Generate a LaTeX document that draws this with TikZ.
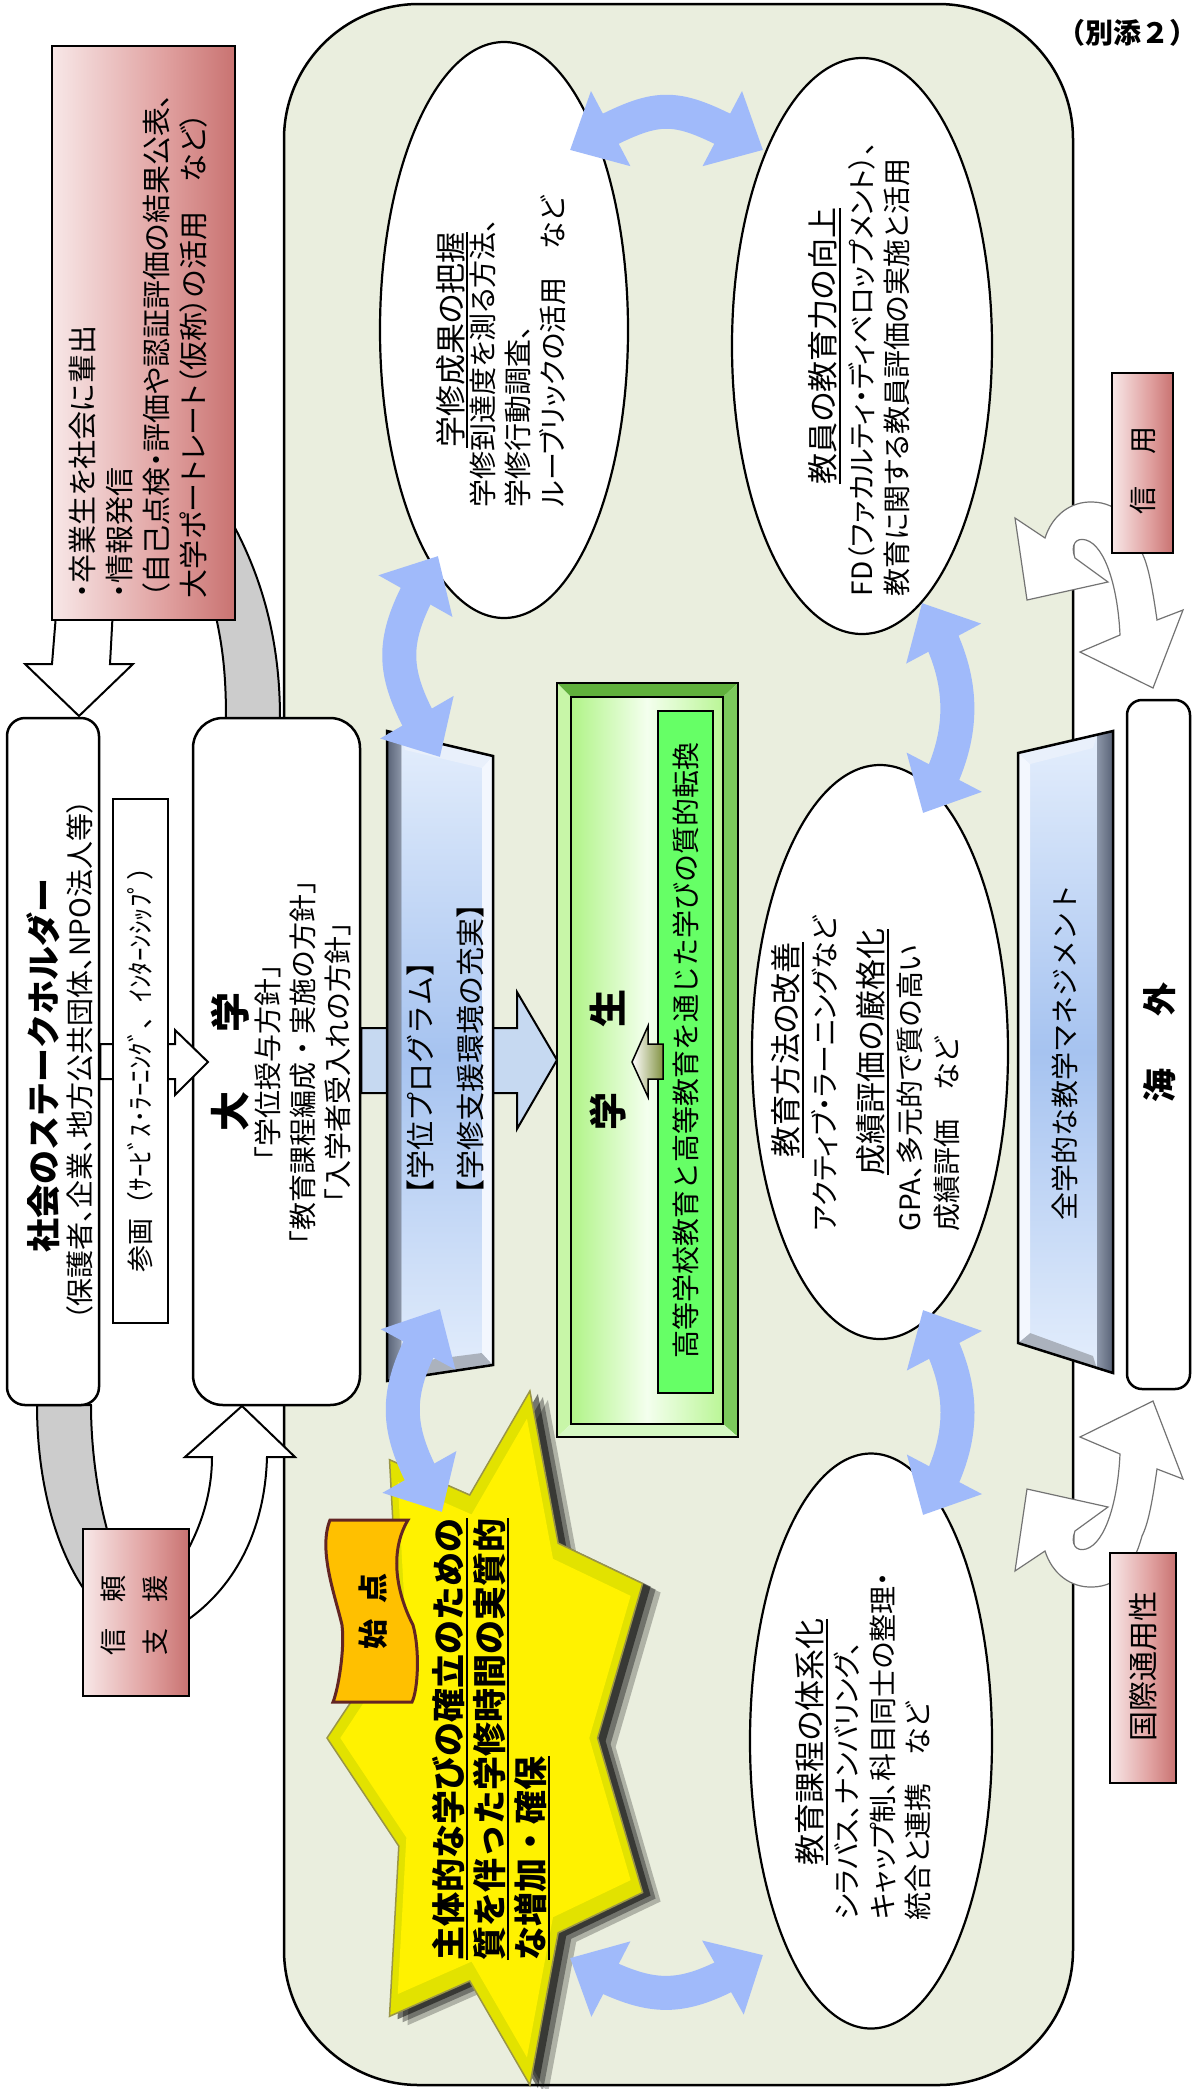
\documentclass[tikz,border=0pt]{standalone}
\usepackage{fontspec}
\setmainfont{Noto Sans CJK JP}
\newfontfamily\jpp[RawFeature=+palt]{Noto Sans CJK JP}
\usetikzlibrary{arrows.meta,bending,shapes.geometric}
\definecolor{bgcol}{RGB}{234,238,222}
\definecolor{bluearr}{RGB}{160,186,250}
\definecolor{lblue}{RGB}{198,217,241}
\definecolor{darkred}{RGB}{150,54,52}
\definecolor{pinkA}{RGB}{244,220,220}
\definecolor{pinkB}{RGB}{224,160,159}
\definecolor{pinkC}{RGB}{192,98,96}
\definecolor{orng}{RGB}{255,192,0}
\definecolor{scrollbrd}{RGB}{99,37,35}
\definecolor{glabel}{RGB}{102,255,102}
\definecolor{pltop}{RGB}{228,238,252}
\definecolor{plmid}{RGB}{166,195,240}
\definecolor{strA}{RGB}{88,98,118}
\definecolor{strB}{RGB}{140,150,168}
\definecolor{yrim}{RGB}{226,226,0}
\pgfdeclarehorizontalshading{redsh}{100bp}{color(0bp)=(white); color(14bp)=(white); color(30bp)=(pinkA); color(56bp)=(pinkB); color(82bp)=(pinkC); color(100bp)=(darkred)}
\pgfdeclareradialshading{ellsh}{\pgfpoint{-5bp}{0bp}}{color(0bp)=(white); color(29bp)=(white); color(32.5bp)=(black!8); color(34.6bp)=(black!32); color(35.5bp)=(black!55); color(50bp)=(black!55)}
\newcommand\fs[2]{\fontsize{#1pt}{#2pt}\selectfont}
\newcommand\ul[1]{\leavevmode\setbox0\hbox{#1}\rlap{\rule[-0.2em]{\wd0}{2pt}}\box0}
\newcommand\starP[1]{\path[#1] (-166,0) -- (-94.2,108.1) -- (-103.5,278.3) -- (-23.3,243.0) -- (36.9,347.1) -- (65.2,194.8) -- (149.6,154.5) -- (104.6,0) -- (149.6,-154.5) -- (65.2,-194.8) -- (36.9,-347.1) -- (-23.3,-243.0) -- (-103.5,-278.3) -- (-94.2,-108.1) -- cycle;}
\newcommand\uarrow{\filldraw[fill=white, draw=black!55, line width=1.2pt] (1015,518) -- (1027,600) -- (1108,582) -- (1075,558) .. controls (1070,545) and (1076,537) .. (1086,540) .. controls (1106,546) and (1118,590) .. (1120,635) -- (1080,652) -- (1153,688) -- (1183,610) -- (1157,620) .. controls (1152,585) and (1148,565) .. (1142,553) .. controls (1133,520) and (1118,503) .. (1093,502) .. controls (1070,501) and (1052,516) .. (1045,538) -- cycle;}
\tikzset{
  rt/.style={rotate=90, inner sep=0pt, outer sep=0pt},
  barr/.style={draw=bluearr, line width=34pt, {Triangle[width=82pt,length=46pt]}-{Triangle[width=82pt,length=46pt]}},
  ell/.style={ellipse, shade, shading=ellsh, draw=black, line width=2.2pt, inner sep=0pt},
  redbox/.style={draw=black, line width=2.5pt, shade, shading=redsh, inner sep=0pt},
  wbox/.style={draw=black, line width=2.5pt, fill=white, inner sep=0pt},
}
\begin{document}
\begin{tikzpicture}[x=1pt,y=-1pt]
\useasboundingbox (0,0) rectangle (1200,2089);
% background panel
\node[draw=black, line width=2.5pt, fill=bgcol, rounded corners=135pt, minimum width=789pt, minimum height=2081pt, inner sep=0pt] (bg) at (678.5,1044.5) {};
% upper curved arrow (gray back + white head)
\filldraw[fill=gray!40, draw=black, line width=2pt] (226,718) .. controls (226,670) and (222,640) .. (212,600) -- (200,560) -- (228,515) .. controls (262,575) and (280,640) .. (280,718) -- cycle;
\filldraw[fill=white, draw=black, line width=2pt] (58,590) -- (52,664) -- (25,664) -- (79,716) -- (133,664) -- (110,664) -- (114,590) -- cycle;
% lower curved arrow
\filldraw[fill=gray!40, draw=black, line width=2pt] (37,1405) .. controls (37,1480) and (55,1550) .. (88,1595) -- (120,1580) -- (110,1540) .. controls (98,1500) and (91,1450) .. (91,1405) -- cycle;
\filldraw[fill=white, draw=black, line width=2pt] (212,1457) -- (185,1457) -- (242,1406) -- (295,1457) -- (267,1457) .. controls (265,1530) and (235,1590) .. (180,1625) -- (160,1600) -- (182,1560) .. controls (200,1530) and (212,1495) .. (212,1457) -- cycle;
% boxes left
\node[redbox, minimum width=183pt, minimum height=574pt] (info) at (143.5,333) {};
\node[wbox, rounded corners=18pt, minimum width=92pt, minimum height=687pt] (soc) at (53,1061.5) {};
\node[wbox, rounded corners=30pt, minimum width=167pt, minimum height=687pt] (dai) at (276.5,1061.5) {};
\node[redbox, minimum width=106pt, minimum height=167pt] (shin) at (136,1612.5) {};
% sankaku arrow
\filldraw[fill=white, draw=black, line width=2pt] (soc.east |- 0,1044) -- (175,1044) -- (175,1030) -- (208,1062) -- (175,1095) -- (175,1079) -- (soc.east |- 0,1079) -- cycle;
\node[draw=black, line width=1.5pt, fill=white, minimum width=55pt, minimum height=524pt, inner sep=0pt] (san) at (140.5,1061) {};
% university -> students arrow
\filldraw[fill=lblue, draw=black, line width=2pt] (dai.east |- 0,1028) -- (517,1028) -- (517,992) -- (557,1060) -- (517,1129) -- (517,1093) -- (dai.east |- 0,1093) -- cycle;
% plate 1
\fill[top color=pltop, bottom color=pltop, middle color=plmid] (387,731) -- (493,756) -- (493,1365) -- (387,1381) -- cycle;
\fill[white!75!plmid] (401,735) -- (493,756) -- (482,768) -- (405,750) -- cycle;
\fill[black!25!pltop] (401,1378) -- (493,1365) -- (482,1353) -- (405,1363) -- cycle;
\fill[white!55!pltop] (482,768) -- (493,756) -- (493,1365) -- (482,1353) -- cycle;
\fill[left color=strA, right color=strB] (387,731) -- (401,735) -- (401,1378) -- (387,1381) -- cycle;
\draw[line width=2.5pt] (387,731) -- (493,756) -- (493,1365) -- (387,1381) -- cycle;
% student box
\draw[line width=2.5pt, fill=white] (557,683) rectangle (738,1437);
\fill[fill={rgb,255:red,96;green,176;blue,60}] (557,683) -- (738,683) -- (723,697) -- (571,697) -- cycle;
\fill[fill={rgb,255:red,200;green,246;blue,168}] (557,683) -- (571,697) -- (571,1424) -- (557,1437) -- cycle;
\fill[fill={rgb,255:red,124;green,201;blue,92}] (738,683) -- (738,1437) -- (723,1424) -- (723,697) -- cycle;
\fill[fill={rgb,255:red,214;green,248;blue,196}] (557,1437) -- (571,1424) -- (723,1424) -- (738,1437) -- cycle;
\shade[left color={rgb,255:red,176;green,244;blue,135}, right color={rgb,255:red,186;green,246;blue,150}, middle color={rgb,255:red,244;green,255;blue,238}] (571,697) rectangle (723,1424);
\draw[line width=1.5pt] (571,697) rectangle (723,1424);
\draw[line width=2.5pt] (557,683) rectangle (738,1437);
\node[draw=black, line width=1.5pt, fill=glabel, minimum width=55pt, minimum height=682pt, inner sep=0pt] (lab) at (685.5,1052) {};
\filldraw[left color=white, right color={rgb,255:red,130;green,146;blue,66}, draw=black, line width=1.5pt] (663,1044) -- (648,1044) -- (648,1026) -- (632,1062) -- (648,1097) -- (648,1079) -- (663,1079) -- cycle;
% ellipses
\node[ell, minimum width=248pt, minimum height=576pt] (e1) at (504,330) {};
\node[ell, minimum width=260pt, minimum height=576pt] (e2) at (862,346) {};
\node[ell, minimum width=256pt, minimum height=574pt] (e3) at (880,1052) {};
\node[ell, minimum width=242pt, minimum height=575pt] (e4) at (871,1741) {};
% plate 2
\fill[top color=pltop, bottom color=pltop, middle color=plmid] (1018,753) -- (1113,731) -- (1113,1373) -- (1018,1343) -- cycle;
\fill[white!75!plmid] (1018,753) -- (1097,735) -- (1093,748) -- (1030,764) -- cycle;
\fill[black!25!pltop] (1018,1343) -- (1097,1369) -- (1093,1356) -- (1030,1333) -- cycle;
\fill[white!55!pltop] (1018,753) -- (1030,764) -- (1030,1333) -- (1018,1343) -- cycle;
\fill[left color=strB, right color=strA] (1097,735) -- (1113,731) -- (1113,1373) -- (1097,1369) -- cycle;
\draw[line width=2.5pt] (1018,753) -- (1113,731) -- (1113,1373) -- (1018,1343) -- cycle;
\node[wbox, rounded corners=15pt, minimum width=63pt, minimum height=689pt] (kai) at (1158.5,1044.5) {};
% U-turn arrows
\uarrow
\begin{scope}[yshift=-2089pt, yscale=-1]
\uarrow
\end{scope}
\node[redbox, minimum width=61pt, minimum height=180pt] (shy) at (1142.5,463) {};
\node[redbox, minimum width=66pt, minimum height=230pt] (kok) at (1143,1668) {};
% star
\begin{scope}[shift={(493,1738)}]
\starP{fill=black, opacity=0.25, shift={(18,9)}}
\starP{fill=black, opacity=0.35, shift={(13,6)}}
\starP{fill=black, opacity=0.5, shift={(8,3)}}
\starP{fill=yrim, draw=black!45!yellow, line width=1.5pt}
\starP{fill=yellow, scale=0.92}
\end{scope}
% start scroll
\filldraw[fill=orng, draw=scrollbrd, line width=3pt] (330,1520) -- (408,1520) .. controls (390,1550) and (395,1590) .. (413,1625) .. controls (420,1650) and (418,1690) .. (412,1702) -- (333,1702) .. controls (338,1690) and (345,1650) .. (342,1625) .. controls (335,1595) and (318,1550) .. (330,1520) -- cycle;
% blue double arrows
\coordinate (b1a) at (570,150); \coordinate (b1b) at (763,150);
\coordinate (b2a) at (438,556); \coordinate (b2b) at (440,757);
\coordinate (b3a) at (440,1309); \coordinate (b3b) at (442,1512);
\coordinate (b4a) at (570,1958); \coordinate (b4b) at (763,1955);
\coordinate (b5a) at (922,603); \coordinate (b5b) at (923,813);
\coordinate (b6a) at (923,1310); \coordinate (b6b) at (923,1515);
\draw[barr] (b1a) .. controls (665,99) and (668,99) .. (b1b);
\draw[barr] (b2a) .. controls (386,642) and (386,670) .. (b2b);
\draw[barr] (b3a) .. controls (390,1394) and (390,1427) .. (b3b);
\draw[barr] (b4a) .. controls (655,2005) and (680,2005) .. (b4b);
\draw[barr] (b5a) .. controls (969,678) and (969,738) .. (b5b);
\draw[barr] (b6a) .. controls (969,1385) and (969,1440) .. (b6b);
% texts
\node[rt, anchor=west, align=left, font=\jpp\fs{29}{37}] (tinfo) at (138,598) {・卒業生を社会に輩出\\・情報発信\\（自己点検・評価や認証評価の結果公表、\\大学ポートレート（仮称）の活用　など）};
\node[rt, font=\bfseries\fs{34}{40}] (tsoc1) at (43,1065) {社会のステークホルダー};
\node[rt, font=\jpp\fs{28}{34}] (tsoc2) at (80,1060) {（保護者、企業、地方公共団体、NPO法人等）};
\node[rt, font=\fs{27}{32}] (tsan) at (140.5,1063) {参画（ｻｰﾋﾞｽ･ﾗｰﾆﾝｸﾞ、ｲﾝﾀｰﾝｼｯﾌﾟ）};
\node[rt, font=\bfseries\fs{40}{48}] (tdai) at (230,1062) {大\hspace{59pt}学};
\node[rt, font=\fs{28}{35}, align=center] (tdai2) at (303,1062) {「学位授与方針」\\「教育課程編成・実施の方針」\\「入学者受入れの方針」};
\node[rt, font=\fs{27}{42}, align=left] (tshin) at (134,1615) {信\hspace{26pt}頼\\支\hspace{26pt}援};
\node[rt, anchor=west, align=left, font=\fs{29}{50}] (tprog) at (445,1208) {【学位プログラム】\\【学修支援環境の充実】};
\node[rt, font=\bfseries\fs{38}{44}] (tgak) at (608,1060) {学\hspace{65pt}生};
\node[rt, font=\fs{28}{34}] (tlab) at (686,1050) {高等学校教育と高等教育を通じた学びの質的転換};
\node[rt, font=\jpp\fs{31}{36}] (te1a) at (452,340) {\ul{学修成果の把握}};
\node[rt, anchor=west, align=left, font=\jpp\fs{28}{35}] (te1b) at (518,507) {学修到達度を測る方法、\\学修行動調査、\\ルーブリックの活用　など};
\node[rt, font=\jpp\fs{31}{36}] (te2a) at (825,346) {\ul{教員の教育力の向上}};
\node[rt, anchor=west, align=left, font=\jpp\fs{28}{35}] (te2b) at (879.5,596) {FD（ファカルティ・ディベロップメント）、\\教育に関する教員評価の実施と活用};
\node[rt, font=\jpp\fs{31}{36}] (te3a) at (788,1050) {\ul{教育方法の改善}};
\node[rt, anchor=west, font=\jpp\fs{28}{35}] (te3b) at (825,1231) {アクティブ・ラーニングなど};
\node[rt, font=\jpp\fs{31}{36}] (te3c) at (873,1052) {\ul{成績評価の厳格化}};
\node[rt, anchor=west, align=left, font=\jpp\fs{28}{37}] (te3d) at (928.5,1231) {GPA、多元的で質の高い\\成績評価　など};
\node[rt, font=\jpp\fs{31}{36}] (te4a) at (812,1742) {\ul{教育課程の体系化}};
\node[rt, anchor=west, align=left, font=\jpp\fs{28}{35.5}] (te4b) at (882.5,1920) {シラバス、ナンバリング、\\キャップ制、科目同士の整理・\\統合と連携　など};
\node[rt, font=\fs{28}{34}] (tzen) at (1065,1052) {全学的な教学マネジメント};
\node[rt, font=\bfseries\fs{34}{40}] (tkai) at (1160,1042) {海\hspace{52pt}外};
\node[rt, font=\fs{28}{34}] (tshy) at (1143,470) {信\hspace{32pt}用};
\node[rt, font=\jpp\fs{30}{36}] (tkok) at (1143,1666) {国際通用性};
\node[rt, anchor=west, align=left, font=\bfseries\fs{34}{41}] (tstar) at (491,1960) {\ul{主体的な学びの確立のための}\\\ul{質を伴った学修時間の実質的}\\\ul{な増加・確保}};
\node[rt, font=\bfseries\fs{30}{36}] (tsiten) at (373,1611) {始\hspace{16pt}点};
\node[font=\bfseries\fs{28}{32}, inner sep=0pt] (tbet) at (1127,33) {（別添２）};
\end{tikzpicture}
\end{document}
